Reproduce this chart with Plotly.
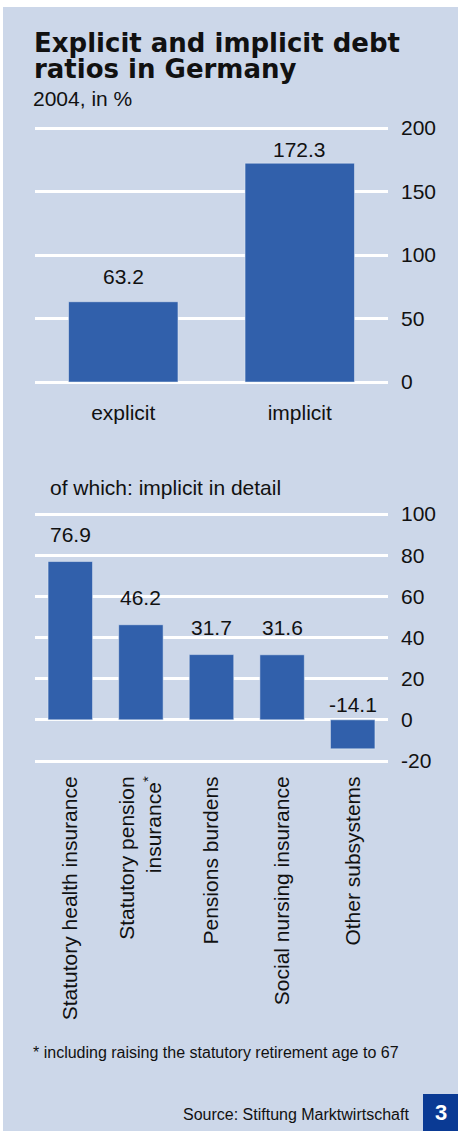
import plotly.graph_objects as go

W, H = 458, 1131

# ---- data ----
main_categories = ["explicit", "implicit"]
main_values = [63.2, 172.3]
main_ticks = [0, 50, 100, 150, 200]

detail_categories = [
    "Statutory health insurance",
    "Statutory pension<br>insurance<sup>*</sup>",
    "Pensions burdens",
    "Social nursing insurance",
    "Other subsystems",
]
detail_values = [76.9, 46.2, 31.7, 31.6, -14.1]
detail_ticks = [-20, 0, 20, 40, 60, 80, 100]

# ---- style ----
BG = "#CCD7E9"
BAR = "#3160AB"
DARK = "#0A3A94"
FONT = "Liberation Sans, Arial, Helvetica, sans-serif"
TXT = "#111111"

def px(x):
    return x / W

def py(y):
    return 1 - y / H

fig = go.Figure()

fig.add_trace(go.Bar(
    x=main_categories, y=main_values, marker_color=BAR, width=0.62,
    xaxis="x", yaxis="y", hoverinfo="skip", showlegend=False,
))
fig.add_trace(go.Bar(
    x=detail_categories, y=detail_values, marker_color=BAR, width=0.63,
    xaxis="x2", yaxis="y2", hoverinfo="skip", showlegend=False,
))

annotations = []
main_gaps = [12, 0]
for c, v, g in zip(main_categories, main_values, main_gaps):
    annotations.append(dict(
        x=c, y=max(v, 0), xref="x", yref="y", text=f"{v:.1f}", showarrow=False,
        yanchor="bottom", yshift=g, font=dict(family=FONT, size=21, color=TXT)))
detail_gaps = [14, 14, 14, 14, 2]
for c, v, g in zip(detail_categories, detail_values, detail_gaps):
    annotations.append(dict(
        x=c, y=max(v, 0), xref="x2", yref="y2", text=f"{v:.1f}", showarrow=False,
        yanchor="bottom", yshift=g, font=dict(family=FONT, size=21, color=TXT)))

# titles and texts
annotations += [
    dict(x=px(32), y=py(43), xref="paper", yref="paper", xanchor="left", yanchor="middle",
         text="<b>Explicit and implicit debt</b>", showarrow=False,
         font=dict(family="DejaVu Sans, sans-serif", size=26, color="#111111")),
    dict(x=px(32), y=py(69), xref="paper", yref="paper", xanchor="left", yanchor="middle",
         text="<b>ratios in Germany</b>", showarrow=False,
         font=dict(family="DejaVu Sans, sans-serif", size=26, color="#111111")),
    dict(x=px(31), y=py(98), xref="paper", yref="paper", xanchor="left", yanchor="middle",
         text="2004, in %", showarrow=False, font=dict(family=FONT, size=21, color=TXT)),
    dict(x=px(48), y=py(487), xref="paper", yref="paper", xanchor="left", yanchor="middle",
         text="of which: implicit in detail", showarrow=False,
         font=dict(family=FONT, size=21, color=TXT)),
    dict(x=px(31), y=py(1052), xref="paper", yref="paper", xanchor="left", yanchor="middle",
         text="* including raising the statutory retirement age to 67", showarrow=False,
         font=dict(family=FONT, size=16, color=TXT)),
    dict(x=px(411), y=py(1114), xref="paper", yref="paper", xanchor="right", yanchor="middle",
         text="Source: Stiftung Marktwirtschaft", showarrow=False,
         font=dict(family=FONT, size=16, color=TXT)),
    dict(x=px(440.5), y=py(1112), xref="paper", yref="paper", xanchor="center", yanchor="middle",
         text="<b>3</b>", showarrow=False,
         font=dict(family=FONT, size=22, color="white")),
]

shapes = [
    dict(type="rect", xref="paper", yref="paper", x0=px(3), x1=1, y0=0, y1=py(7),
         fillcolor=BG, line_width=0, layer="below"),
    dict(type="rect", xref="paper", yref="paper", x0=px(423), x1=1, y0=0, y1=py(1094),
         fillcolor=DARK, line_width=0, layer="below"),
]

top_ppu = (382 - 128) / 200.0
bot_ppu = (761 - 514) / 120.0
top_range = [-5, 205]
bot_range = [-23, 103]

axis_font = dict(family=FONT, size=21, color=TXT)
grid = dict(showgrid=True, gridcolor="white", gridwidth=3, zeroline=True,
            zerolinecolor="white", zerolinewidth=3, showline=False, ticks="",
            automargin=False, side="right", tickfont=axis_font, ticklabelstandoff=12)

fig.update_layout(
    width=W, height=H,
    margin=dict(l=0, r=0, t=0, b=0),
    paper_bgcolor="white", plot_bgcolor="rgba(0,0,0,0)",
    bargap=0.3,
    xaxis=dict(domain=[px(35), px(388)], type="category", range=[-0.5, 1.5],
               showgrid=False, zeroline=False, showline=False, ticks="",
               tickfont=dict(family=FONT, size=21, color=TXT), automargin=False,
               ticklabelstandoff=10, anchor="y"),
    yaxis=dict(domain=[py(382 - top_range[0] * top_ppu), py(128 - (top_range[1] - 200) * top_ppu)],
               range=top_range, tickvals=main_ticks, ticktext=[str(t) for t in main_ticks],
               anchor="x", **grid),
    xaxis2=dict(domain=[px(35), px(388)], type="category", range=[-0.5, 4.5],
                showgrid=False, zeroline=False, showline=False, ticks="",
                tickangle=-90, tickfont=dict(family=FONT, size=21, color=TXT),
                automargin=False, ticklabelstandoff=4, anchor="y2"),
    yaxis2=dict(domain=[py(761 - (bot_range[0] + 20) * bot_ppu), py(514 - (bot_range[1] - 100) * bot_ppu)],
                range=bot_range, tickvals=detail_ticks, ticktext=[str(t) for t in detail_ticks],
                anchor="x2", **grid),
    annotations=annotations,
    shapes=shapes,
)

fig.write_html("out.html", config={"displayModeBar": False, "staticPlot": True},
               post_script="document.body.style.margin='0';document.body.style.overflow='hidden';")
